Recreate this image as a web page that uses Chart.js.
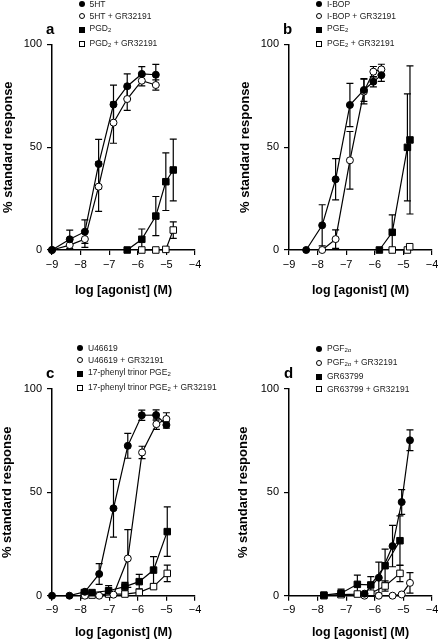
<!DOCTYPE html>
<html>
<head>
<meta charset="utf-8">
<script src="https://cdn.jsdelivr.net/npm/chart.js@4"></script>
<style>
  body { margin: 0; background: #fff; width: 438px; height: 640px; position: relative; overflow: hidden;
         font-family: "Liberation Sans", Arial, sans-serif; }
  .panel { position: absolute; width: 219px; height: 320px; }
  .panel canvas { position: absolute; left: 0; top: 0; }
  .letter { position: absolute; font-weight: bold; font-size: 15px; line-height: 1; color: #000; }
  .leg { position: absolute; font-size: 8.5px; color: #222; line-height: 12.2px; }
  .leg .item { position: relative; padding-left: 11px; white-space: nowrap; }
  .leg sub { font-size: 6px; vertical-align: -1px; }
  .mk { position: absolute; left: 0; top: 50%; transform: translateY(-50%); box-sizing: border-box; }
  .mk.circle { width: 6px; height: 6px; border-radius: 50%; }
  .mk.rect { width: 6px; height: 6px; }
  .mk.filled { background: #000; }
  .mk.open { background: #fff; border: 1px solid #000; }
</style>
</head>
<body>
<div class="panel" id="pa" style="left:0;top:0"><canvas id="ca" width="219" height="320"></canvas></div>
<div class="panel" id="pb" style="left:219px;top:0"><canvas id="cb" width="219" height="320"></canvas></div>
<div class="panel" id="pc" style="left:0;top:320px"><canvas id="cc" width="219" height="320"></canvas></div>
<div class="panel" id="pd" style="left:219px;top:320px"><canvas id="cd" width="219" height="320"></canvas></div>
<script>
// 축 눈금
const xTicks = [-9, -8, -7, -6, -5, -4];
const yTicks = [0, 50, 100];
const xTitle = 'log [agonist] (M)';
const yTitle = '% standard response';

// 패널 a
const aLabels = ['5HT', '5HT + GR32191', 'PGD<sub>2</sub>', 'PGD<sub>2</sub> + GR32191'];
const a5htX = [-9, -8.38, -7.85, -7.37, -6.85, -6.37, -5.86, -5.37];
const a5htY = [0, 5.2, 8.9, 41.8, 70.7, 79.6, 85.6, 85.2];
const a5htE = [0, 4.5, 5.7, 12, 9.5, 6, 3.5, 5];
const a5htGrY = [0, 2.4, 5.3, 30.8, 61.9, 73.4, 82.3, 80.2];
const a5htGrE = [0, 0, 4, 12, 10, 5.5, 2.5, 2.5];
const aPgdX = [-6.37, -5.86, -5.37, -5.02, -4.76];
const aPgdY = [0, 5.2, 16.5, 33.2, 38.9];
const aPgdE = [0, 5, 9.5, 14, 15];
const aPgdGrX = [-5.86, -5.37, -5.02, -4.76];
const aPgdGrY = [0, 0, 0.3, 9.7];
const aPgdGrE = [0, 0, 0, 4];

// 패널 b
const bLabels = ['I-BOP', 'I-BOP + GR32191', 'PGE<sub>2</sub>', 'PGE<sub>2</sub> + GR32191'];
const bIbopX = [-8.40, -7.84, -7.37, -6.87, -6.38, -6.05, -5.77];
const bIbopY = [0, 12, 34.4, 70.5, 77.8, 81.8, 85];
const bIbopE = [0, 10, 10, 10.5, 5.5, 2.5, 3];
const bIbopGrX = [-7.84, -7.37, -6.87, -6.38, -6.05, -5.77];
const bIbopGrY = [0, 5.3, 43.6, 77, 86.7, 87.8];
const bIbopGrE = [0, 4.5, 14, 6, 2.5, 2.5];
const bPgeX = [-5.84, -5.39, -4.86, -4.77];
const bPgeY = [0, 8.6, 49.9, 53.5];
const bPgeE = [0, 8.5, 26, 36];
const bPgeGrX = [-5.39, -4.86, -4.78];
const bPgeGrY = [0, 0, 1.6];
const bPgeGrE = [0, 0, 0];

// 패널 c
const cLabels = ['U46619', 'U46619 + GR32191', '17-phenyl trinor PGE<sub>2</sub>', '17-phenyl trinor PGE<sub>2</sub> + GR32191'];
const cUX = [-9, -8.39, -7.85, -7.35, -6.85, -6.35, -5.86, -5.36, -5.0];
const cUY = [0, 0, 1.9, 10.5, 42.3, 72.5, 87.3, 87.4, 82.6];
const cUE = [0, 0, 0, 5, 14, 6, 2.5, 2.5, 1.5];
const cUGrX = [-7.85, -7.35, -6.85, -6.35, -5.85, -5.35, -5.0];
const cUGrY = [0, 0, 0.5, 18, 69.3, 83, 85.5];
const cUGrE = [0, 0, 0, 14, 3, 2.5, 3];
const cPhX = [-7.87, -7.6, -7.02, -6.45, -5.95, -5.45, -4.97];
const cPhY = [1.5, 1.5, 2.4, 4.4, 6.8, 12.4, 31];
const cPhE = [0, 0, 2.5, 2, 3.5, 6.5, 12];
const cPhGrY = [0.3, 0.3, 0.8, 0.8, 1.6, 4.4, 10.8];
const cPhGrE = [0, 0, 0, 0, 0, 1, 4];

// 패널 d
const dLabels = ['PGF<sub>2\u03b1</sub>', 'PGF<sub>2\u03b1</sub> + GR32191', 'GR63799', 'GR63799 + GR32191'];
const dPgfX = [-6.36, -5.86, -5.38, -5.06, -4.77];
const dPgfY = [1, 8.7, 24, 45.3, 75.2];
const dPgfE = [0, 7.5, 10, 6, 5];
const dPgfGrY = [0, 0, 0, 0.6, 6.2];
const dPgfGrE = [0, 0, 0, 0, 5];
const dGrX = [-7.78, -7.18, -6.61, -6.14, -5.64, -5.12];
const dGrY = [0.3, 1.2, 5.5, 5.2, 14.5, 26.6];
const dGrE = [0, 2, 4.5, 4, 8, 12];
const dGrGrY = [0, 0.5, 0.8, 1.2, 4.7, 10.8];
const dGrGrE = [0, 0, 0, 0, 2.5, 4];

// 마커 스타일
const STYLES = [
    { shape: 'circle', fill: '#000', r: 3.5 },
    { shape: 'circle', fill: '#fff', r: 3.5 },
    { shape: 'rect', fill: '#000', r: 4.6 },
    { shape: 'rect', fill: '#fff', r: 4.6 }
];

// 오차 막대 플러그인
const errorBars = {
    id: 'errorBars',
    beforeDatasetsDraw(chart) {
        const { ctx, scales: { x, y } } = chart;
        ctx.save();
        ctx.strokeStyle = '#000';
        ctx.lineWidth = 1.2;
        chart.data.datasets.forEach(ds => {
            if (!ds.err) return;
            ds.data.forEach((p, i) => {
                const e = ds.err[i];
                if (!e) return;
                const px = x.getPixelForValue(p.x);
                const top = y.getPixelForValue(p.y + e);
                const bot = y.getPixelForValue(p.y - e);
                ctx.beginPath();
                ctx.moveTo(px, top); ctx.lineTo(px, bot);
                ctx.moveTo(px - 3.5, top); ctx.lineTo(px + 3.5, top);
                ctx.moveTo(px - 3.5, bot); ctx.lineTo(px + 3.5, bot);
                ctx.stroke();
            });
        });
        ctx.restore();
    }
};

function series(xs, ys, es, style) {
    return {
        data: xs.map((x, i) => ({ x: x, y: ys[i] })),
        err: es,
        showLine: true,
        borderColor: '#000',
        borderWidth: 1.2,
        pointStyle: style.shape,
        pointRadius: style.r,
        pointHoverRadius: style.r,
        pointBackgroundColor: style.fill,
        pointBorderColor: '#000',
        pointBorderWidth: 1,
        clip: false
    };
}

function makePanel(canvasId, datasets, lay) {
    return new Chart(document.getElementById(canvasId), {
        type: 'scatter',
        data: { datasets: datasets },
        options: {
            responsive: false,
            animation: false,
            devicePixelRatio: 1,
            layout: { padding: { left: lay.left, right: lay.right, top: lay.top, bottom: lay.bottom } },
            plugins: { legend: { display: false }, tooltip: { enabled: false } },
            scales: {
                x: {
                    type: 'linear',
                    min: xTicks[0],
                    max: xTicks[xTicks.length - 1],
                    afterBuildTicks: s => { s.ticks = xTicks.map(v => ({ value: v })); },
                    afterFit: s => { s.height = lay.xh; s.paddingLeft = 0; s.paddingRight = 0; },
                    grid: { display: true, drawOnChartArea: false, drawTicks: true, tickLength: 5, color: '#000', lineWidth: 1.2 },
                    border: { display: true, color: '#000', width: 1.5 },
                    ticks: {
                        color: '#000', padding: 3, maxRotation: 0,
                        font: { family: 'Liberation Sans', size: 11 },
                        callback: v => (v < 0 ? '\u2212' + Math.abs(v) : String(v))
                    },
                    title: {
                        display: true, text: xTitle, color: '#000', padding: 0,
                        font: { family: 'Liberation Sans', size: 12.5, weight: 'bold' }
                    }
                },
                y: {
                    type: 'linear',
                    min: yTicks[0],
                    max: yTicks[yTicks.length - 1],
                    afterBuildTicks: s => { s.ticks = yTicks.map(v => ({ value: v })); },
                    afterFit: s => { s.width = lay.yw; s.paddingTop = 0; s.paddingBottom = 0; },
                    grid: { display: true, drawOnChartArea: false, drawTicks: true, tickLength: 5, color: '#000', lineWidth: 1.2 },
                    border: { display: true, color: '#000', width: 1.5 },
                    ticks: { color: '#000', padding: 5, font: { family: 'Liberation Sans', size: 11 } },
                    title: {
                        display: true, text: yTitle, color: '#000', padding: 0,
                        font: { family: 'Liberation Sans', size: 13, weight: 'bold' }
                    }
                }
            }
        },
        plugins: [errorBars]
    });
}

// 범례 + 패널 문자 (HTML)
function addLegend(panelId, labels, left, top) {
    const box = document.createElement('div');
    box.className = 'leg';
    box.style.left = left + 'px';
    box.style.top = top + 'px';
    labels.forEach((lab, i) => {
        const st = STYLES[i];
        const item = document.createElement('div');
        item.className = 'item';
        item.innerHTML = '<span class="mk ' + st.shape + ' ' + (st.fill === '#000' ? 'filled' : 'open') + '"></span>' + lab;
        box.appendChild(item);
    });
    document.getElementById(panelId).appendChild(box);
}
function addLetter(panelId, ch, left, top) {
    const el = document.createElement('div');
    el.className = 'letter';
    el.textContent = ch;
    el.style.left = left + 'px';
    el.style.top = top + 'px';
    document.getElementById(panelId).appendChild(el);
}

makePanel('ca', [
    series(a5htX, a5htY, a5htE, STYLES[0]),
    series(a5htX, a5htGrY, a5htGrE, STYLES[1]),
    series(aPgdX, aPgdY, aPgdE, STYLES[2]),
    series(aPgdGrX, aPgdGrY, aPgdGrE, STYLES[3])
], { left: 0.2, right: 24, top: 44.3, bottom: 22, yw: 51.8, xh: 48 });

makePanel('cb', [
    series(bIbopX, bIbopY, bIbopE, STYLES[0]),
    series(bIbopGrX, bIbopGrY, bIbopGrE, STYLES[1]),
    series(bPgeX, bPgeY, bPgeE, STYLES[2]),
    series(bPgeGrX, bPgeGrY, bPgeGrE, STYLES[3])
], { left: 18.2, right: 6, top: 44.3, bottom: 22, yw: 51.8, xh: 48 });

makePanel('cc', [
    series(cUX, cUY, cUE, STYLES[0]),
    series(cUGrX, cUGrY, cUGrE, STYLES[1]),
    series(cPhX, cPhY, cPhE, STYLES[2]),
    series(cPhX, cPhGrY, cPhGrE, STYLES[3])
], { left: 0, right: 24, top: 69, bottom: 0, yw: 52, xh: 44.3 });

makePanel('cd', [
    series(dPgfX, dPgfY, dPgfE, STYLES[0]),
    series(dPgfX, dPgfGrY, dPgfGrE, STYLES[1]),
    series(dGrX, dGrY, dGrE, STYLES[2]),
    series(dGrX, dGrGrY, dGrGrE, STYLES[3])
], { left: 17, right: 6, top: 69, bottom: 0, yw: 53, xh: 44.3 });

addLegend('pa', aLabels, 78.5, -2);
addLegend('pb', bLabels, 97, -2);
addLegend('pc', cLabels, 77, 22);
addLegend('pd', dLabels, 97, 22);
addLetter('pa', 'a', 46, 21);
addLetter('pb', 'b', 64, 21);
addLetter('pc', 'c', 46, 45);
addLetter('pd', 'd', 65, 45);
</script>
</body>
</html>
